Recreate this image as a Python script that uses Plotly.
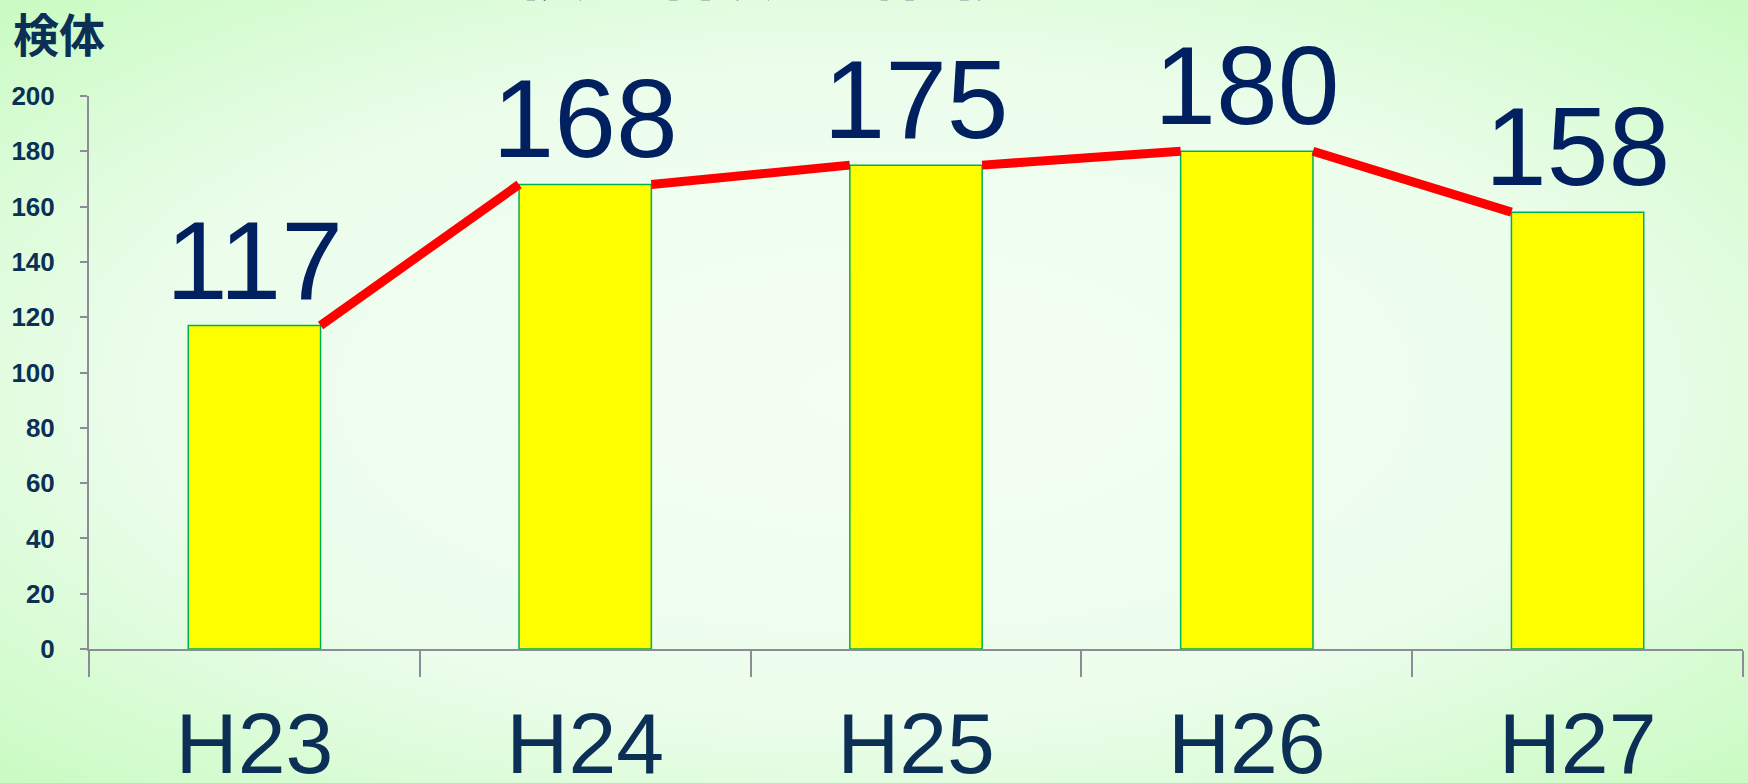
import base64
import plotly.graph_objects as go

years = ['H23', 'H24', 'H25', 'H26', 'H27']
counts = [117, 168, 175, 180, 158]
y_ticks = [0, 20, 40, 60, 80, 100, 120, 140, 160, 180, 200]

W, H = 1748, 783
L, R, T, B = 89, 5, 96, 134
pw, ph = W - L - R, H - T - B

bar_w = 0.4
navy = '#002060'
tick_col = '#0b2f55'
axis_col = '#8c8c96'

# light green radial background
svg = ('<svg xmlns="http://www.w3.org/2000/svg" width="1748" height="783">'
       '<defs><radialGradient id="g" cx="50%" cy="50%" r="75%">'
       '<stop offset="0%" stop-color="#f4fff4"/>'
       '<stop offset="55%" stop-color="#ecfdec"/>'
       '<stop offset="100%" stop-color="#c4fbbc"/>'
       '</radialGradient></defs>'
       '<rect width="1748" height="783" fill="url(#g)"/></svg>')
bg = 'data:image/svg+xml;base64,' + base64.b64encode(svg.encode()).decode()

fig = go.Figure()
fig.add_bar(x=years, y=counts, width=bar_w,
            marker=dict(color='#ffff00', line=dict(color='#00b050', width=1.5)),
            text=[str(v) for v in counts], textposition='outside',
            textfont=dict(size=111, color=navy, family='Arial, Liberation Sans'),
            constraintext='none', cliponaxis=False)

# series lines between neighbouring bar tops
lx, ly = [], []
for i in range(len(counts) - 1):
    lx += [i + bar_w / 2, i + 1 - bar_w / 2, None]
    ly += [counts[i], counts[i + 1], None]
fig.add_scatter(x=lx, y=ly, xaxis='x2', mode='lines',
                line=dict(color='#ff0000', width=9), cliponaxis=False)

fig.update_layout(
    width=W, height=H,
    margin=dict(l=L, r=R, t=T, b=B),
    paper_bgcolor='#ecfdec', plot_bgcolor='rgba(0,0,0,0)',
    showlegend=False,
    font=dict(family='Arial, Liberation Sans', color=tick_col),
    images=[dict(source=bg, xref='paper', yref='paper', x=-L / pw, y=1 + T / ph,
                 sizex=W / pw, sizey=H / ph,
                 xanchor='left', yanchor='top', sizing='stretch', layer='below')],
    xaxis=dict(type='category', showline=True, linecolor=axis_col, linewidth=2,
               ticks='outside', tickson='boundaries', ticklen=26, tickwidth=2,
               tickcolor=axis_col, showgrid=False, zeroline=False, automargin=False,
               ticklabelstandoff=19,
               tickfont=dict(size=86, color=tick_col)),
    xaxis2=dict(overlaying='x', range=[-0.5, len(years) - 0.5], visible=False),
    yaxis=dict(range=[0, 200], tickvals=y_ticks, showline=True, linecolor=axis_col,
               linewidth=2, ticks='outside', ticklen=7, tickwidth=2, tickcolor=axis_col,
               showgrid=False, zeroline=False, automargin=False, ticklabelstandoff=20,
               tickfont=dict(size=26, color=tick_col, family='Arial, Liberation Sans',
                             weight='bold')),
)

fig.add_annotation(text='<b>検体</b>', xref='paper', yref='paper', x=-(L - 11) / pw,
                   y=1 + (T + 3) / ph, xanchor='left', yanchor='top', showarrow=False,
                   font=dict(size=46, color=tick_col, family='Noto Sans CJK JP'))
# title sits mostly above the top edge, as in the source slide
fig.add_annotation(text='<b>【検査件数の推移】</b>', xref='paper', yref='paper', x=0.41,
                   y=1 + (T - 16) / ph, xanchor='center', yanchor='bottom', showarrow=False,
                   font=dict(size=72, color=navy, family='Noto Sans CJK JP'))

fig.write_html('out.html', config={'displayModeBar': False},
               post_script="document.body.style.margin='0';")
